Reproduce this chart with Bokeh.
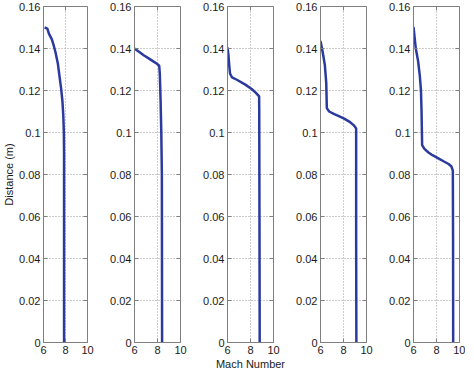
import math
from bokeh.plotting import figure
from bokeh.layouts import row
from bokeh.models import FixedTicker, Range1d
from bokeh.embed import file_html
from bokeh.resources import INLINE

# ---- data (Mach number vs distance, five profiles) ----
mach_1 = [6.1, 6.35, 6.5, 6.75, 6.9, 7.1, 7.3, 7.45, 7.6, 7.72, 7.8, 7.85, 7.87, 7.87]
dist_1 = [0.150, 0.1495, 0.147, 0.1445, 0.142, 0.138, 0.133, 0.127, 0.121, 0.115, 0.108, 0.100, 0.090, 0.0]

mach_2 = [6.0, 6.2, 6.45, 6.8, 7.2, 7.6, 7.95, 8.15, 8.2, 8.27, 8.33, 8.38, 8.4]
dist_2 = [0.140, 0.1392, 0.1382, 0.1368, 0.1354, 0.1340, 0.1327, 0.1318, 0.128, 0.115, 0.100, 0.080, 0.0]

mach_3 = [6.0, 6.08, 6.15, 6.22, 6.4, 6.85, 7.55, 8.1, 8.45, 8.75, 8.76, 8.78, 8.8]
dist_3 = [0.1405, 0.137, 0.132, 0.128, 0.1262, 0.1250, 0.1228, 0.1207, 0.119, 0.1172, 0.110, 0.060, 0.0]

mach_4 = [6.0, 6.2, 6.38, 6.5, 6.55, 6.75, 7.2, 7.6, 8.1, 8.5, 8.9, 9.1, 9.1, 9.12]
dist_4 = [0.1436, 0.138, 0.132, 0.1235, 0.1116, 0.1100, 0.1088, 0.1078, 0.1065, 0.1052, 0.1034, 0.1019, 0.050, 0.0]

mach_5 = [6.0, 6.1, 6.2, 6.4, 6.55, 6.65, 6.7, 6.75, 6.95, 7.3, 7.65, 8.2, 8.65, 9.05, 9.3, 9.42, 9.44, 9.45]
dist_5 = [0.1503, 0.145, 0.140, 0.134, 0.127, 0.120, 0.110, 0.094, 0.0922, 0.0905, 0.0892, 0.0876, 0.0862, 0.0850, 0.0838, 0.0818, 0.050, 0.0]

x_ticks = [6, 8, 10]
y_ticks = [0, 0.02, 0.04, 0.06, 0.08, 0.10, 0.12, 0.14, 0.16]
y_tick_labels = ["0", "0.02", "0.04", "0.06", "0.08", "0.1", "0.12", "0.14", "0.16"]

series = [(mach_1, dist_1), (mach_2, dist_2), (mach_3, dist_3), (mach_4, dist_4), (mach_5, dist_5)]

FONT = "Liberation Sans"
LINE = "#2b3a9e"
AX = "#7f7f7f"
H = 374
TOP = 6
BOTTOM = 32
PW = 46

figs = []
for i, (xs, ys) in enumerate(series):
    left = 41 if i == 0 else 35
    right = 6 if i == 4 else 12
    p = figure(width=left + PW + right, height=H, output_backend="svg", toolbar_location=None,
               x_range=Range1d(6, 10), y_range=Range1d(0, 0.16),
               min_border_left=left, min_border_right=right,
               min_border_top=TOP, min_border_bottom=BOTTOM)
    p.outline_line_color = AX
    p.outline_line_width = 1
    p.background_fill_color = "white"
    p.border_fill_color = "white"

    for ax in (p.xaxis[0], p.yaxis[0]):
        ax.axis_line_color = AX
        ax.major_tick_line_color = AX
        ax.major_tick_in = 4
        ax.major_tick_out = 0
        ax.minor_tick_line_color = None
        ax.major_label_text_font = FONT
        ax.major_label_text_font_size = "11px"
        ax.major_label_text_color = "#1a1a1a"
        ax.major_label_standoff = 3
        ax.axis_label_text_font = FONT
        ax.axis_label_text_font_size = "11px"
        ax.axis_label_text_font_style = "normal"
        ax.axis_label_text_color = "#1a1a1a"
        ax.axis_label_standoff = 1
    p.xaxis[0].ticker = FixedTicker(ticks=x_ticks)
    p.yaxis[0].ticker = FixedTicker(ticks=y_ticks)
    p.yaxis[0].major_label_overrides = {t: s for t, s in zip(y_ticks, y_tick_labels)}
    if i == 0:
        p.yaxis[0].axis_label = "Distance (m)"
    if i == 2:
        p.xaxis[0].axis_label = "Mach Number"

    p.xgrid.ticker = FixedTicker(ticks=x_ticks)
    p.ygrid.ticker = FixedTicker(ticks=y_ticks)
    for g in (p.xgrid[0], p.ygrid[0]):
        g.grid_line_color = "#9a9a9a"
        g.grid_line_dash = "1 2"
        g.grid_line_width = 1

    # inward ticks on right and top edges (MATLAB style box)
    p.ray(x=[10] * len(y_ticks), y=y_ticks, length=4, length_units="screen",
          angle=math.pi, line_color=AX, line_width=1)
    p.ray(x=x_ticks, y=[0.16] * len(x_ticks), length=4, length_units="screen",
          angle=-math.pi / 2, line_color=AX, line_width=1)

    p.line(xs, ys, line_color=LINE, line_width=2.5)
    figs.append(p)

layout = row(*figs, spacing=0)
open("out.html", "w").write(file_html(layout, INLINE))
